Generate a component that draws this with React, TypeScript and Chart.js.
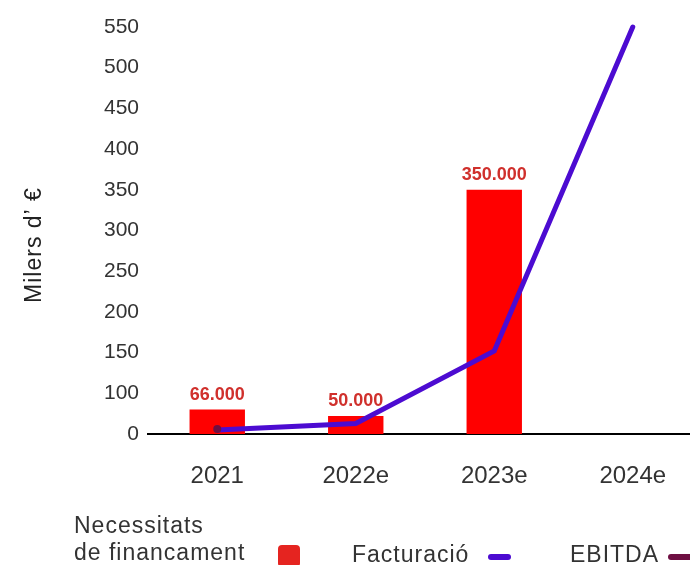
import React, { useEffect, useRef } from "react";
import { Chart, registerables } from "chart.js";

Chart.register(...registerables);

const FONT = '"Liberation Sans", Arial, Helvetica, sans-serif';

const CATEGORIES = ["2021", "2022e", "2023e", "2024e"];
const NECESSITATS = [80, 72, 350, null];
const NECESSITATS_LABELS = ["66.000", "50.000", "350.000", ""];
const FACTURACIO = [55, 63, 152, 550];
const EBITDA = [56, null, null, null];
const Y_TICK_LABELS = ["0", "100", "150", "200", "250", "300", "350", "400", "450", "500", "550"];
const Y_MIN = 50;
const Y_MAX = 550;
const Y_STEP = 50;

const SERIES_NAMES = ["Necessitats de financament", "Facturació", "EBITDA"];
const COLORS = { bar: "#ff0000", barLegend: "#e52420", line: "#4c0bd1", ebitda: "#6e0f42", label: "#d0302c" };

const barLabelPlugin = {
  id: "barLabels",
  afterDatasetsDraw(chart: any) {
    const ctx = chart.ctx;
    const meta = chart.getDatasetMeta(0);
    ctx.save();
    ctx.font = `bold 18px ${FONT}`;
    ctx.fillStyle = COLORS.label;
    ctx.textAlign = "center";
    ctx.textBaseline = "alphabetic";
    meta.data.forEach((el: any, i: number) => {
      const t = NECESSITATS_LABELS[i];
      if (!t || NECESSITATS[i] == null) return;
      ctx.fillText(t, el.x, el.y - 10);
    });
    ctx.restore();
  },
};

const decorPlugin = {
  id: "decor",
  afterDraw(chart: any) {
    const ctx = chart.ctx;
    ctx.save();
    // axis title
    ctx.translate(35, 245);
    ctx.rotate(-Math.PI / 2);
    ctx.font = `23px ${FONT}`;
    (ctx as any).letterSpacing = "1px";
    ctx.fillStyle = "#222";
    ctx.textAlign = "center";
    ctx.textBaseline = "middle";
    ctx.fillText("Milers d’ €", 0, 0);
    ctx.restore();

    // legend
    ctx.save();
    ctx.font = `23px ${FONT}`;
    (ctx as any).letterSpacing = "1px";
    ctx.fillStyle = "#333";
    ctx.textAlign = "left";
    ctx.textBaseline = "alphabetic";
    const words = SERIES_NAMES[0].split(" ");
    ctx.fillText(words[0], 74, 533);
    ctx.fillText(words.slice(1).join(" "), 74, 560);
    ctx.fillStyle = COLORS.barLegend;
    ctx.beginPath();
    ctx.roundRect(278, 545, 22, 22, 4);
    ctx.fill();

    ctx.fillStyle = "#333";
    ctx.fillText(SERIES_NAMES[1], 352, 562);
    ctx.fillStyle = COLORS.line;
    ctx.beginPath();
    ctx.roundRect(488, 554, 23, 6, 3);
    ctx.fill();

    ctx.fillStyle = "#333";
    ctx.fillText(SERIES_NAMES[2], 570, 562);
    ctx.fillStyle = COLORS.ebitda;
    ctx.beginPath();
    ctx.roundRect(668, 554, 30, 6, 3);
    ctx.fill();
    ctx.restore();
  },
};

export default function App() {
  const ref = useRef<HTMLCanvasElement>(null);
  useEffect(() => {
    Chart.defaults.font.family = FONT;
    const chart = new Chart(ref.current as HTMLCanvasElement, {
      type: "bar",
      data: {
        labels: CATEGORIES,
        datasets: [
          {
            type: "bar",
            label: SERIES_NAMES[0],
            data: NECESSITATS as any,
            backgroundColor: COLORS.bar,
            barPercentage: 0.4,
            categoryPercentage: 1,
            order: 3,
          },
          {
            type: "line",
            label: SERIES_NAMES[1],
            data: FACTURACIO as any,
            borderColor: COLORS.line,
            backgroundColor: COLORS.line,
            borderWidth: 5,
            pointRadius: 0,
            borderCapStyle: "round",
            tension: 0,
            clip: false as any,
            order: 2,
          },
          {
            type: "line",
            label: SERIES_NAMES[2],
            data: EBITDA as any,
            borderColor: COLORS.ebitda,
            backgroundColor: COLORS.ebitda,
            pointRadius: 4,
            pointBorderWidth: 0,
            showLine: false,
            clip: false as any,
            order: 1,
          },
        ],
      },
      options: {
        responsive: false,
        animation: false,
        layout: { padding: { top: 27, right: 0, bottom: 0, left: 0 } },
        plugins: { legend: { display: false }, tooltip: { enabled: false } },
        scales: {
          x: {
            grid: { display: false, drawTicks: false },
            border: { display: true, color: "#000", width: 2 },
            ticks: { font: { family: FONT, size: 24 }, color: "#333", padding: 28 },
            afterFit: (s: any) => {
              s.height = 131;
            },
          },
          y: {
            min: Y_MIN,
            max: Y_MAX,
            beginAtZero: false,
            grid: { display: false, drawTicks: false },
            border: { display: false },
            ticks: {
              stepSize: Y_STEP,
              font: { family: FONT, size: 21 },
              color: "#333",
              padding: 9,
              callback: (_v: any, i: number) => Y_TICK_LABELS[i],
            },
            afterFit: (s: any) => {
              s.width = 148;
            },
          },
        },
      },
      plugins: [barLabelPlugin, decorPlugin],
    } as any);
    return () => chart.destroy();
  }, []);
  return (
    <div style={{ position: "absolute", left: 0, top: 0, width: 690, height: 565, overflow: "hidden", background: "#fff" }}>
      <canvas ref={ref} width={706} height={565} style={{ display: "block" }} />
    </div>
  );
}
